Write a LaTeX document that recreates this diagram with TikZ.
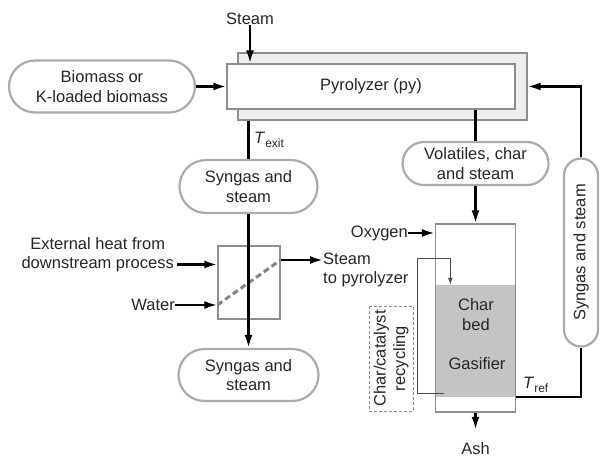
\documentclass[tikz,border=0pt]{standalone}
\usepackage{fontspec}
\setmainfont{Liberation Sans}
\usetikzlibrary{calc,shapes.misc,arrows.meta}
\definecolor{edgegray}{HTML}{ABABAB}
\definecolor{boxgray}{HTML}{8E8E8E}
\definecolor{bedgray}{HTML}{C4C4C4}
\definecolor{pygray}{HTML}{EEEEEE}
\newcommand{\tlabel}[1]{\textit{T}\raisebox{-0.5ex}{\fontsize{12}{12}\selectfont #1}}

\begin{document}
\begin{tikzpicture}[x=1pt,y=-1pt,
  font=\fontsize{16.5}{19.5}\selectfont, text=black!85,
  flow/.style={line width=2.3pt,-{Latex[length=13pt,width=8pt]}},
  link/.style={line width=2.3pt},
  stadium/.style={rounded rectangle,draw=edgegray,line width=2.2pt,fill=white,align=center,inner sep=1pt},
  unit/.style={rectangle,draw=boxgray,line width=1.2pt,inner sep=0pt},
  label/.style={align=center,inner sep=0pt},
  recyc/.style={draw=black!70,line width=1.3pt,-{Latex[length=7pt,width=5pt]}}]

  \useasboundingbox (0,0) rectangle (615,467);

  % pyrolyzer
  \node[unit,fill=pygray,minimum width=289,minimum height=67] (pyo) at (382.5,86.5) {};
  \node[unit,fill=white,minimum width=288,minimum height=45] (py) at (371,86.5) {Pyrolyzer (py)};
  \node[label] (steam) at (250,19) {Steam};
  \draw[flow] (steam.south) -- (steam |- py.north);

  \node[stadium,minimum width=188,minimum height=52] (bio) at (102,86.5) {Biomass or\\K-loaded biomass};
  \draw[flow] (bio.east) -- (py.west);

  % syngas line with heat exchanger
  \node[stadium,minimum width=140,minimum height=53] (syn1) at (248.5,186.5) {Syngas and\\steam};
  \draw[link] (syn1.north |- pyo.south) -- (syn1.north);
  \node[label,anchor=west] (texit) at (254,140) {\tlabel{exit}};

  \node[unit,minimum width=62,minimum height=73] (hx) at (249,282.5) {};
  \draw[draw=black!48,line width=3pt,dash pattern=on 6pt off 3.5pt] ([yshift=-22.5pt]hx.west) -- ([yshift=22.5pt]hx.east);
  \node[stadium,minimum width=142,minimum height=52] (syn2) at (248.5,375) {Syngas and\\steam};
  \draw[flow] (syn1.south) -- (syn2.north);

  \node[label,anchor=east] (ext) at (174,254.5) {External heat from\\downstream process};
  \draw[flow] ([xshift=3pt,yshift=-10pt]ext.east) -- ([yshift=-10pt]ext.east -| hx.west);
  \node[label,anchor=east] (water) at (175,305) {Water};
  \draw[flow] (water.east) -- (water.east -| hx.west);
  \node[label,anchor=west,align=left] (stp) at (323,270) {Steam\\to pyrolyzer};
  \draw[flow] ([yshift=22.5pt]hx.east) -- ([yshift=22.5pt]hx.east -| stp.west);

  % gasifier
  \node[stadium,minimum width=148,minimum height=43] (vol) at (475.5,163.5) {Volatiles, char\\and steam};
  \draw[link] (vol.north |- py.south) -- (vol.north);
  \node[rectangle,fill=bedgray,minimum width=80,minimum height=112,inner sep=0pt] (bed) at (475.5,341) {};
  \node[unit,minimum width=80,minimum height=188] (gas) at (475.5,318) {};
  \draw[flow] (vol.south) -- (gas.north);
  \node[label] (chartxt) at (476,314.5) {Char\\bed};
  \node[label] (gastxt) at (477,364) {Gasifier};

  \node[label,anchor=east] (oxy) at (408,233) {Oxygen};
  \draw[flow] (oxy.east) -- (oxy.east -| gas.west);
  \node[label] (ash) at (475.5,449) {Ash};
  \draw[flow] (gas.south) -- ([yshift=13pt]ash.north);

  \node[rectangle,draw=boxgray,line width=1pt,dash pattern=on 3pt off 2pt,rotate=90,align=center,
        minimum width=105,minimum height=44,inner sep=1pt] (rbox) at (391,358.5) {Char/catalyst\\recycling};
  \draw[recyc] ($(bed.south west)+(9,-4)$) -- ++(-27,0) |- ($(bed.north west)+(15,-26)$) -- ($(bed.north west)+(15,0)$);

  % syngas recycle to pyrolyzer
  \node[label,anchor=west] (tref) at (523,385) {\tlabel{ref}};
  \node[stadium,rotate=90,minimum width=190,minimum height=34] (syn3) at (581,252.5) {Syngas and steam};
  \draw[link] (bed.south east) -| (syn3.west); % west of the turned node is its lower end
  \draw[flow] (syn3.east) |- (pyo.east);
\end{tikzpicture}
\end{document}
